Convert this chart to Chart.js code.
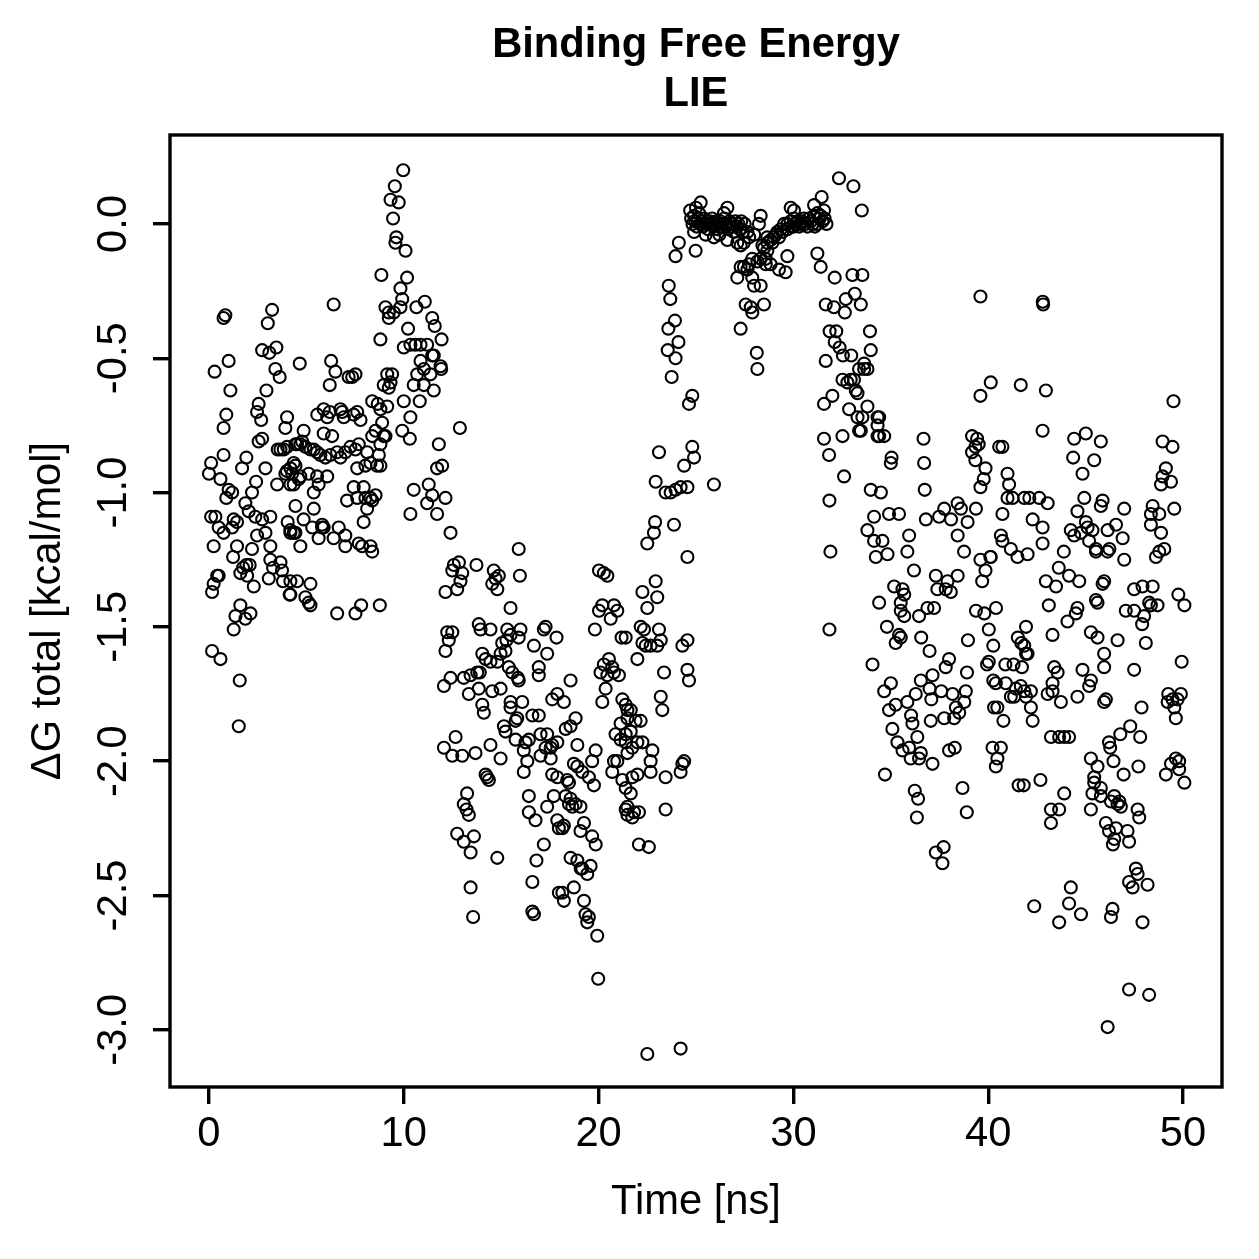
<!DOCTYPE html>
<html>
<head>
<meta charset="utf-8">
<script src="https://cdn.jsdelivr.net/npm/chart.js@4.4.1/dist/chart.umd.min.js"></script>
<style>
  html, body { margin: 0; padding: 0; background: #fff; }
  #wrap { width: 1259px; height: 1259px; }
</style>
</head>
<body>
<div id="wrap"><canvas id="myChart" width="1259" height="1259"></canvas></div>
<script>
// values: [time in ns, dG total in kcal/mol]
const earlyPhase = [
  [0.75,-0.35],[0.84,-0.34],[3.24,-0.32],[3.02,-0.37],[1.01,-0.51],[0.29,-0.55],[2.73,-0.47],[3.1,-0.48],
  [3.46,-0.46],[3.41,-0.54],[3.63,-0.57],[1.1,-0.62],[2.95,-0.62],[0.89,-0.71],[0.75,-0.76],[2.55,-0.67],
  [2.47,-0.7],[2.68,-0.73],[4.01,-0.72],[3.92,-0.76],[2.55,-0.81],[2.73,-0.8],[3.53,-0.84],[3.67,-0.84],
  [3.84,-0.84],[4.01,-0.83],[0.75,-0.86],[0.11,-0.89],[0.0,-0.93],[1.92,-0.87],[1.7,-0.91],[2.9,-0.91],
  [4.0,-0.92],[3.92,-0.93],[4.18,-0.91],[0.59,-0.95],[1.01,-0.99],[1.19,-1.0],[0.89,-1.02],[2.42,-0.96],
  [2.21,-1.0],[3.5,-0.97],[4.18,-0.97],[1.87,-1.04],[2.04,-1.07],[2.38,-1.09],[2.73,-1.1],[3.15,-1.09],
  [0.11,-1.09],[0.33,-1.09],[0.5,-1.13],[0.75,-1.15],[1.27,-1.1],[1.44,-1.11],[1.19,-1.13],[2.47,-1.16],
  [2.9,-1.15],[4.04,-1.11],[4.18,-1.15],[4.44,-1.15],[0.24,-1.2],[1.44,-1.2],[2.21,-1.21],[3.15,-1.2],
  [1.24,-1.24],[1.75,-1.28],[1.92,-1.27],[2.09,-1.27],[1.61,-1.3],[1.96,-1.31],[2.3,-1.35],[3.15,-1.25],
  [3.29,-1.28],[3.67,-1.26],[3.75,-1.29],[3.8,-1.33],[3.07,-1.32],[4.18,-1.33],[4.14,-1.38],[0.42,-1.31],
  [0.5,-1.31],[0.24,-1.34],[0.16,-1.37],[1.61,-1.42],[1.36,-1.46],[1.87,-1.47],[2.13,-1.45],[1.27,-1.51],
  [0.16,-1.59],[0.59,-1.62],[1.58,-1.7],[1.53,-1.87],
  [8.85,-0.19],[6.4,-0.3],[9.06,-0.31],[9.23,-0.33],[9.49,-0.33],[8.8,-0.43],[4.66,-0.52],[6.27,-0.51],
  [6.49,-0.55],[6.2,-0.6],[7.17,-0.57],[7.35,-0.57],[7.52,-0.56],[9.15,-0.56],[8.97,-0.6],[9.23,-0.61],
  [8.38,-0.66],[8.66,-0.67],[9.15,-0.68],[8.8,-0.69],[5.56,-0.71],[5.89,-0.69],[6.07,-0.72],[6.2,-0.7],
  [6.75,-0.69],[6.84,-0.7],[6.92,-0.72],[7.43,-0.71],[7.61,-0.7],[7.78,-0.73],[8.89,-0.74],[8.97,-0.79],
  [8.55,-0.77],[8.38,-0.79],[4.86,-0.77],[4.78,-0.81],[4.52,-0.82],[5.89,-0.78],[6.32,-0.79],[4.44,-0.82],
  [4.69,-0.82],[4.95,-0.83],[5.21,-0.84],[5.38,-0.84],[5.55,-0.85],[5.72,-0.86],[5.98,-0.87],[6.23,-0.86],
  [6.58,-0.85],[6.75,-0.87],[7.0,-0.85],[7.26,-0.83],[7.52,-0.84],[7.69,-0.82],[8.12,-0.85],[8.29,-0.89],
  [8.72,-0.86],[8.63,-0.9],[7.61,-0.91],[8.03,-0.9],[4.35,-0.89],[4.44,-0.9],[4.27,-0.93],[4.61,-0.95],
  [4.35,-0.97],[4.69,-0.94],[5.12,-0.93],[5.55,-0.94],[5.63,-0.97],[6.07,-0.94],[5.38,-1.0],[4.44,-1.05],
  [5.38,-1.06],[7.43,-0.98],[7.94,-0.98],[8.03,-1.02],[7.61,-1.02],[7.09,-1.03],[8.29,-1.02],[8.55,-1.01],
  [8.38,-1.03],[8.12,-1.06],[7.94,-1.11],[4.86,-1.1],[5.3,-1.13],[5.81,-1.13],[5.89,-1.13],[6.66,-1.13],
  [7.0,-1.16],[6.4,-1.17],[5.63,-1.17],[5.81,-1.12],[4.18,-1.14],[4.35,-1.15],[4.69,-1.2],[7.0,-1.2],
  [7.69,-1.19],[7.86,-1.2],[8.29,-1.2],[8.38,-1.22],[4.52,-1.33],[5.21,-1.34],[4.95,-1.39],[5.12,-1.41],
  [5.21,-1.42],[4.18,-1.38],[6.58,-1.45],[7.52,-1.45],[7.81,-1.42],[8.77,-1.42],
  [9.97,0.2],[9.54,0.14],[9.32,0.09],[9.74,0.08],[9.45,0.02],[9.62,-0.05],[9.57,-0.07],[10.09,-0.1],
  [10.17,-0.2],[9.83,-0.24],[9.92,-0.28],[9.83,-0.31],[9.23,-0.35],[10.65,-0.31],[11.08,-0.29],[11.46,-0.35],
  [11.59,-0.38],[10.22,-0.39],[11.94,-0.43],[10.0,-0.46],[10.34,-0.45],[10.6,-0.45],[10.86,-0.45],[11.2,-0.45],
  [11.46,-0.49],[11.54,-0.49],[11.89,-0.53],[11.92,-0.54],[10.86,-0.51],[11.03,-0.54],[11.37,-0.56],[10.69,-0.56],
  [10.51,-0.6],[9.4,-0.56],[9.32,-0.59],[11.03,-0.6],[10.82,-0.66],[11.54,-0.62],[10.0,-0.66],[10.34,-0.72],
  [9.06,-0.79],[8.8,-0.82],[9.92,-0.77],[10.31,-0.8],[12.88,-0.76],[11.8,-0.82],[8.8,-0.9],[11.71,-0.91],
  [11.97,-0.9],[10.51,-0.99],[11.28,-0.97],[11.46,-1.01],[11.2,-1.04],[12.14,-1.02],[10.34,-1.08],[11.71,-1.08],
  [12.4,-1.15]
];
const lowPhase = [
  [15.9,-1.21],[12.57,-1.27],[12.83,-1.26],[12.49,-1.29],[13.0,-1.3],[12.91,-1.33],[12.74,-1.36],[12.14,-1.37],
  [13.73,-1.27],[14.62,-1.29],[14.88,-1.31],[14.71,-1.32],[14.54,-1.34],[14.8,-1.36],[15.96,-1.31],[15.48,-1.43],
  [13.85,-1.49],[13.94,-1.51],[14.45,-1.51],[15.31,-1.51],[15.48,-1.53],[15.99,-1.51],[15.05,-1.56],[15.27,-1.55],
  [17.19,-1.51],[17.28,-1.5],[17.84,-1.54],[12.23,-1.52],[12.49,-1.52],[12.31,-1.55],[12.14,-1.59],[15.9,-1.54],
  [16.68,-1.57],[14.03,-1.6],[14.2,-1.62],[14.45,-1.63],[14.8,-1.63],[14.97,-1.6],[15.22,-1.59],[17.36,-1.6],
  [12.4,-1.69],[13.08,-1.69],[13.43,-1.68],[13.77,-1.67],[13.9,-1.67],[12.06,-1.72],[15.39,-1.65],[15.57,-1.67],
  [15.86,-1.69],[15.9,-1.7],[16.93,-1.65],[16.93,-1.68],[13.34,-1.75],[13.85,-1.73],[14.54,-1.74],[14.97,-1.73],
  [17.62,-1.77],[17.88,-1.75],[14.03,-1.79],[14.11,-1.82],[15.48,-1.78],[15.48,-1.8],[16.08,-1.78],[15.74,-1.85],
  [15.82,-1.84],[16.6,-1.83],[16.93,-1.83],[15.14,-1.87],[15.22,-1.89],[15.74,-1.92],[16.25,-1.93],[16.42,-1.92],
  [17.02,-1.9],[17.36,-1.9],[17.62,-1.94],[17.28,-1.95],[17.54,-1.95],[17.88,-1.93],[12.66,-1.91],[12.06,-1.95],
  [12.49,-1.98],[13.0,-1.98],[13.68,-1.97],[14.45,-1.94],[14.97,-1.99],[16.16,-1.96],[16.34,-2.0],[17.02,-1.98],
  [17.54,-1.99],[14.2,-2.05],[14.37,-2.07],[14.28,-2.06],[16.16,-2.04],[17.62,-2.05],[17.88,-2.06],[13.25,-2.12],
  [13.08,-2.16],[13.22,-2.18],[13.34,-2.2],[16.42,-2.13],[17.36,-2.17],[17.7,-2.13],[16.42,-2.19],[16.76,-2.22],
  [17.88,-2.22],[17.96,-2.25],[12.74,-2.27],[13.08,-2.3],[13.6,-2.28],[13.43,-2.34],[14.8,-2.36],[17.19,-2.31],
  [16.81,-2.37],[13.43,-2.47],[16.6,-2.45],[17.96,-2.49],[13.56,-2.58],[16.6,-2.56],[16.68,-2.57],
  [20.02,-1.29],[20.27,-1.3],[20.45,-1.31],[20.19,-1.42],[20.02,-1.44],[20.79,-1.42],[20.96,-1.44],[20.62,-1.47],
  [19.81,-1.51],[21.18,-1.54],[20.53,-1.62],[20.27,-1.64],[20.7,-1.65],[20.1,-1.67],[20.45,-1.68],[21.04,-1.68],
  [20.79,-1.67],[18.56,-1.7],[20.36,-1.73],[20.19,-1.78],[21.22,-1.77],[21.39,-1.79],[21.48,-1.81],[18.22,-1.78],
  [18.82,-1.84],[18.56,-1.87],[18.31,-1.88],[21.13,-1.86],[20.87,-1.9],[21.13,-1.92],[21.39,-1.93],[18.91,-1.94],
  [19.85,-1.96],[19.67,-2.0],[20.79,-2.0],[20.96,-2.0],[20.7,-2.04],[18.73,-2.01],[18.91,-2.02],[19.16,-2.04],
  [19.5,-2.06],[19.76,-2.09],[18.39,-2.07],[18.48,-2.08],[21.22,-2.07],[21.39,-2.1],[21.65,-2.12],[21.48,-2.17],
  [21.39,-2.18],[18.31,-2.13],[18.56,-2.14],[18.82,-2.16],[19.07,-2.17],[18.65,-2.17],[18.48,-2.16],[18.22,-2.24],
  [18.14,-2.25],[19.07,-2.26],[19.25,-2.23],[19.67,-2.28],[19.85,-2.31],[18.56,-2.36],[18.91,-2.37],[19.08,-2.4],
  [19.42,-2.42],[19.59,-2.39],[19.16,-2.4],[18.14,-2.49],[18.22,-2.52],[18.73,-2.47],[19.25,-2.52],[19.33,-2.57],
  [19.5,-2.58],[19.42,-2.6],[19.93,-2.65],[19.98,-2.81],
  [21.39,-1.54],[22.16,-1.5],[22.33,-1.51],[22.25,-1.56],[22.42,-1.57],[22.67,-1.57],[23.1,-1.51],[23.19,-1.55],
  [23.01,-1.57],[21.99,-1.62],[23.36,-1.67],[24.3,-1.57],[24.56,-1.55],[24.56,-1.66],[24.64,-1.7],[23.19,-1.76],
  [23.27,-1.81],[21.65,-1.81],[21.48,-1.84],[21.9,-1.85],[22.16,-1.85],[21.65,-1.89],[21.39,-1.9],[21.99,-1.93],
  [21.73,-1.95],[21.48,-1.97],[22.25,-1.93],[22.76,-1.96],[22.67,-2.0],[22.67,-2.04],[23.44,-2.06],[24.21,-2.04],
  [24.39,-2.0],[24.3,-2.01],[21.99,-2.05],[21.73,-2.06],[21.82,-2.19],[22.07,-2.19],[21.48,-2.2],[21.73,-2.21],
  [23.44,-2.18],[22.07,-2.31],[22.58,-2.32],[22.5,-3.09],[24.21,-3.07]
];
const boundPhase = [
  [22.93,-1.33],[22.25,-1.37],[22.5,-1.43],[23.01,-1.39],[22.9,-1.11],[22.84,-1.15],[22.5,-1.19],[23.87,-1.12],
  [24.56,-1.24],[23.1,-0.85],[24.81,-0.83],[24.9,-0.87],[24.39,-0.9],[22.93,-0.96],[23.44,-1.0],[23.7,-1.0],
  [23.95,-0.99],[24.21,-0.98],[24.56,-0.98],[23.75,-0.57],[24.81,-0.64],[24.64,-0.67],[23.92,-0.36],[23.58,-0.39],
  [24.1,-0.44],[23.55,-0.47],[23.95,-0.5],[23.6,-0.23],[23.68,-0.28],[24.12,-0.07],[23.95,-0.12],[24.98,-0.1],
  [25.92,-0.97],
  [32.34,0.17],[33.08,0.14],[33.51,0.05],[25.24,0.08],[26.61,0.06],[26.44,0.04],[29.86,0.06],[30.03,0.05],
  [31.06,0.07],[31.45,0.1],[28.32,0.03],[28.23,0.0],[24.7,0.05],[25.0,0.06],
  [24.75,0.02],[24.82,0.0],[24.9,0.03],[24.96,0.01],[25.03,-0.01],[25.1,0.02],[25.16,0.04],[25.22,0.0],
  [25.3,0.01],[25.36,-0.01],[25.42,0.02],[25.5,0.0],[25.56,0.01],[25.63,-0.02],[25.7,0.01],[25.76,0.0],
  [25.83,0.02],[25.9,-0.01],[25.96,0.0],[26.03,0.01],[26.1,-0.02],[26.17,0.0],[26.24,0.01],[26.3,-0.01],
  [26.37,0.0],[26.45,0.02],[26.52,-0.01],[26.58,0.0],[26.65,-0.02],[26.72,0.01],[26.8,-0.01],[26.87,0.0],
  [26.95,-0.03],[27.02,0.01],[27.1,-0.01],[27.18,0.0],[27.25,-0.02],[27.32,0.01],[27.4,-0.03],[27.5,0.0],
  [25.92,-0.05],[26.61,-0.06],[27.12,-0.07],[27.29,-0.08],[27.46,-0.07],[27.64,-0.03],[27.73,-0.05],[27.99,-0.04],
  [25.5,-0.04],[26.2,-0.04],[24.9,-0.03],
  [28.49,-0.09],[28.66,-0.07],[28.83,-0.06],[29.0,-0.05],[29.17,-0.03],[29.35,-0.02],[29.52,0.0],[29.69,0.0],
  [29.86,0.01],[30.03,0.02],[30.2,0.01],[30.54,0.02],[30.8,0.02],[31.06,0.03],[31.23,0.04],[31.4,0.03],
  [31.57,0.05],[28.66,-0.05],[28.92,-0.07],[29.09,-0.04],[29.26,-0.05],[29.43,-0.03],[29.69,-0.02],[30.03,-0.01],
  [30.37,0.0],[30.72,-0.01],[30.98,0.0],[31.23,0.0],[31.49,0.01],[29.9,-0.01],[30.1,0.0],[30.3,-0.01],
  [30.45,0.01],[30.6,0.0],[30.9,0.01],[31.1,-0.01],[31.35,0.02],[31.6,0.02],[31.7,0.0],
  [28.41,-0.08],[28.66,-0.1],[28.58,-0.13],[28.32,-0.13],[28.15,-0.14],[28.58,-0.15],[28.83,-0.15],[29.69,-0.12],
  [27.89,-0.13],[27.72,-0.15],[27.46,-0.16],[27.29,-0.16],[27.12,-0.2],[27.89,-0.2],[27.64,-0.17],[27.98,-0.23],
  [28.32,-0.23],[29.26,-0.17],[29.6,-0.18],[28.49,-0.3],[27.81,-0.31],[27.55,-0.3],[27.89,-0.33],[27.29,-0.39],
  [28.12,-0.48],[28.15,-0.54],[31.23,-0.11],[31.4,-0.16],[32.12,-0.2],[33.03,-0.19],[33.54,-0.19],[31.66,-0.3],
  [32.08,-0.31],[32.69,-0.28],[33.15,-0.26],[33.46,-0.3],[32.64,-0.33],[31.86,-0.4],[32.2,-0.4],[32.12,-0.44],
  [32.37,-0.46],[32.54,-0.49],[32.97,-0.49],[33.93,-0.4],[33.97,-0.47],[31.66,-0.51],[33.63,-0.52],[33.8,-0.54],
  [33.63,-0.54],[33.37,-0.54],[32.52,-0.58],[32.77,-0.59],[32.94,-0.58],[33.11,-0.58],[33.29,-0.63],[33.2,-0.62],
  [32.0,-0.64],[31.57,-0.67],[32.86,-0.69],[33.29,-0.72],[33.8,-0.68],[33.37,-0.77],[32.52,-0.79],[31.57,-0.8],
  [31.83,-0.86],[34.32,-0.72],[34.32,-0.79],[32.6,-0.94],[31.85,-1.03],[31.9,-1.22],[31.85,-1.51]
];
const latePhase = [
  [33.54,-0.72],[33.46,-0.77],[34.4,-0.72],[34.32,-0.75],[34.4,-0.79],[34.66,-0.79],[36.68,-0.8],[35.04,-0.87],
  [35.0,-0.89],[36.71,-0.89],[39.17,-0.79],[39.43,-0.8],[39.51,-0.82],[39.34,-0.83],[39.17,-0.85],[39.34,-0.88],
  [39.86,-0.91],[39.77,-0.95],[39.6,-0.98],[40.56,-0.83],[33.97,-0.99],[34.49,-1.0],[36.74,-0.99],[34.14,-1.09],
  [34.91,-1.08],[35.42,-1.08],[33.8,-1.14],[34.14,-1.18],[34.57,-1.18],[34.23,-1.24],[34.83,-1.23],[35.94,-1.16],
  [35.85,-1.22],[36.8,-1.1],[37.48,-1.09],[37.74,-1.06],[38.09,-1.1],[38.43,-1.04],[38.6,-1.06],[38.94,-1.11],
  [39.37,-1.06],[38.43,-1.16],[38.76,-1.22],[36.19,-1.29],[39.6,-1.25],[40.11,-1.24],[39.86,-1.29],[39.69,-1.33],
  [35.17,-1.35],[35.6,-1.36],[35.69,-1.38],[35.51,-1.41],[37.31,-1.31],[37.39,-1.36],[37.91,-1.33],[37.82,-1.36],
  [38.08,-1.37],[38.43,-1.31],[34.4,-1.41],[35.51,-1.44],[35.69,-1.46],[36.45,-1.46],[36.88,-1.43],[37.22,-1.43],
  [39.37,-1.44],[39.8,-1.45],[40.4,-1.43],[34.8,-1.5],[35.42,-1.53],[35.25,-1.56],[35.51,-1.54],[36.56,-1.54],
  [36.99,-1.59],[38.96,-1.55],[40.03,-1.51],[40.26,-1.57],[34.06,-1.64],[37.99,-1.62],[37.82,-1.65],[37.14,-1.68],
  [36.54,-1.7],[38.91,-1.67],[39.94,-1.64],[40.03,-1.63],[35.0,-1.71],[34.66,-1.74],[36.28,-1.75],[35.85,-1.78],
  [35.25,-1.79],[34.91,-1.81],[36.99,-1.73],[37.08,-1.77],[37.59,-1.74],[38.17,-1.75],[38.85,-1.74],[38.77,-1.78],
  [38.34,-1.8],[38.51,-1.82],[40.26,-1.7],[40.3,-1.8],[40.47,-1.8],[36.04,-1.83],[36.11,-1.86],[37.05,-1.85],
  [37.74,-1.84],[38.25,-1.84],[35.08,-1.88],[35.34,-1.93],[35.6,-1.96],[35.94,-1.95],[36.02,-1.99],[36.36,-1.91],
  [36.54,-1.97],[36.45,-1.99],[37.14,-2.01],[37.99,-1.96],[38.28,-1.95],[40.22,-1.95],[40.47,-1.99],[40.39,-2.02],
  [34.7,-2.05],[36.23,-2.11],[36.4,-2.14],[36.34,-2.21],[38.68,-2.1],[38.9,-2.19],[37.31,-2.34],[37.71,-2.32],
  [37.65,-2.38],
  [42.8,-0.29],[42.82,-0.3],[39.6,-0.27],[40.13,-0.59],[39.6,-0.64],[41.67,-0.6],[42.96,-0.62],[42.79,-0.77],
  [44.41,-0.8],[45.01,-0.78],[45.78,-0.81],[44.36,-0.87],[45.44,-0.88],[40.73,-0.83],[44.84,-0.93],[40.99,-0.93],
  [41.07,-0.97],[40.99,-1.02],[41.25,-1.02],[41.85,-1.02],[42.11,-1.02],[42.62,-1.02],[43.05,-1.04],[44.93,-1.02],
  [45.78,-1.05],[40.73,-1.08],[42.28,-1.1],[42.79,-1.13],[42.79,-1.19],[44.58,-1.07],[45.01,-1.11],[45.1,-1.13],
  [44.24,-1.14],[44.41,-1.16],[44.76,-1.15],[45.18,-1.18],[45.53,-1.22],[46.13,-1.14],[46.13,-1.22],[40.65,-1.16],
  [40.73,-1.18],[41.16,-1.21],[41.5,-1.24],[42.02,-1.23],[40.13,-1.24],[43.88,-1.22],[43.62,-1.28],[44.15,-1.31],
  [44.67,-1.33],[42.96,-1.33],[43.48,-1.35],[45.87,-1.34],[43.11,-1.42],[44.07,-1.48],[44.5,-1.45],[44.58,-1.43],
  [43.3,-1.53],[45.61,-1.41],[41.52,-1.54],[41.7,-1.56],[41.85,-1.57],[41.94,-1.6],[42.02,-1.6],[41.94,-1.5],
  [45.27,-1.52],[45.61,-1.54],[45.95,-1.6],[45.95,-1.65],[40.88,-1.64],[41.3,-1.64],[41.73,-1.65],[43.39,-1.65],
  [43.56,-1.67],[43.3,-1.71],[44.84,-1.66],[45.18,-1.72],[44.58,-1.76],[40.39,-1.71],[40.9,-1.71],[41.42,-1.73],
  [41.67,-1.72],[41.85,-1.74],[41.33,-1.76],[41.16,-1.76],[41.94,-1.76],[42.19,-1.74],[43.05,-1.75],[43.3,-1.74],
  [43.73,-1.78],[42.19,-1.8],[42.28,-1.85],[40.78,-1.85],[45.95,-1.78],[43.22,-1.91],[43.64,-1.91],[43.9,-1.91],
  [44.15,-1.91],[40.65,-1.95],[41.56,-2.09],[41.82,-2.09],[42.68,-2.07],[43.9,-2.12],[43.22,-2.18],[43.64,-2.18],
  [43.22,-2.23],[45.27,-1.99],[45.61,-2.02],[45.44,-2.06],[45.35,-2.12],[45.78,-2.1],[45.27,-2.18],[46.2,-1.93],
  [46.3,-2.15],[46.2,-2.26],[46.4,-2.31],[44.24,-2.47],[44.15,-2.53],[44.76,-2.57],[43.64,-2.6],[42.36,-2.54],
  [46.3,-2.58],
  [49.51,-0.66],[48.95,-0.81],[49.46,-0.83],[49.12,-0.91],[48.95,-0.94],[48.87,-0.97],[49.38,-0.96],[45.87,-1.03],
  [46.98,-1.06],[48.44,-1.05],[48.35,-1.08],[48.78,-1.08],[48.87,-1.15],[48.35,-1.12],[49.55,-1.06],[45.35,-1.14],
  [46.56,-1.12],[46.9,-1.17],[45.53,-1.21],[46.22,-1.21],[46.98,-1.25],[48.61,-1.24],[48.78,-1.22],[49.04,-1.21],
  [45.95,-1.33],[45.53,-1.4],[47.49,-1.36],[47.92,-1.35],[48.44,-1.35],[48.26,-1.41],[48.69,-1.42],[48.0,-1.46],
  [47.06,-1.44],[47.49,-1.44],[47.9,-1.49],[48.35,-1.42],[49.76,-1.38],[50.07,-1.42],[46.64,-1.55],[48.09,-1.56],
  [47.49,-1.66],[49.93,-1.63],[45.27,-1.7],[46.04,-1.77],[47.87,-1.8],[49.24,-1.75],[49.21,-1.78],[49.46,-1.77],
  [49.72,-1.77],[49.89,-1.75],[49.63,-1.84],[49.55,-1.8],[46.78,-1.9],[47.29,-1.87],[47.8,-1.91],[46.26,-1.95],
  [46.43,-2.0],[46.95,-2.05],[47.71,-2.02],[45.44,-2.08],[45.78,-2.13],[49.63,-1.99],[49.8,-2.0],[49.38,-2.01],
  [49.8,-2.03],[49.12,-2.05],[50.07,-2.08],[46.47,-2.13],[46.73,-2.15],[46.81,-2.17],[46.64,-2.16],[47.67,-2.18],
  [47.75,-2.21],[46.04,-2.23],[46.56,-2.25],[46.47,-2.29],[47.15,-2.26],[47.23,-2.3],[47.58,-2.4],[47.67,-2.42],
  [47.23,-2.45],[47.41,-2.47],[48.18,-2.46],[46.38,-2.55],[47.92,-2.6],[47.23,-2.85],[48.26,-2.87],[46.13,-2.99]
];

const xTicks = [0, 10, 20, 30, 40, 50];
const yTicks = [-3.0, -2.5, -2.0, -1.5, -1.0, -0.5, 0.0];
const titleLines = ['Binding Free Energy', 'LIE'];

const FONT = '"Liberation Sans", Arial, Helvetica, sans-serif';
const TXT = 41.7;

// R style closed box around the plot region
const boxPlugin = {
    id: 'box',
    afterDatasetsDraw(chart) {
        const { ctx, chartArea: a } = chart;
        ctx.save();
        ctx.strokeStyle = '#000';
        ctx.lineWidth = 3.4;
        ctx.strokeRect(a.left, a.top, a.right - a.left, a.bottom - a.top);
        ctx.restore();
    }
};

const points = [...earlyPhase, ...lowPhase, ...boundPhase, ...latePhase].map(p => ({ x: p[0], y: p[1] }));

new Chart(document.getElementById('myChart'), {
    type: 'scatter',
    data: {
        datasets: [{
            data: points,
            pointStyle: 'circle',
            pointRadius: 6,
            pointBorderWidth: 2.1,
            pointBackgroundColor: 'rgba(0,0,0,0)',
            pointBorderColor: '#000'
        }]
    },
    options: {
        responsive: false,
        animation: false,
        events: [],
        layout: { padding: { left: 0, right: 37, top: 0, bottom: 0 } },
        plugins: {
            legend: { display: false },
            tooltip: { enabled: false },
            title: {
                display: true,
                text: titleLines,
                fullSize: false,
                color: '#000',
                font: { family: FONT, size: TXT, weight: 'bold', lineHeight: 1.175 },
                padding: { top: 21.5, bottom: 15.5 }
            }
        },
        scales: {
            x: {
                type: 'linear',
                position: 'bottom',
                min: -2,
                max: 52,
                afterBuildTicks: s => { s.ticks = xTicks.map(v => ({ value: v })); },
                afterFit: s => { s.height = 172; },
                border: { display: false },
                grid: { drawOnChartArea: false, tickLength: 17, lineWidth: 3.4, color: '#000' },
                ticks: {
                    autoSkip: false, maxRotation: 0, padding: 5, color: '#000',
                    font: { family: FONT, size: TXT },
                    callback: v => String(v)
                },
                title: {
                    display: true, text: 'Time [ns]', color: '#000',
                    font: { family: FONT, size: TXT },
                    padding: { top: 0, bottom: 31 }
                }
            },
            y: {
                type: 'linear',
                position: 'left',
                min: -3.213,
                max: 0.331,
                afterBuildTicks: s => { s.ticks = yTicks.map(v => ({ value: v })); },
                afterFit: s => { s.width = 170; },
                border: { display: false },
                grid: { drawOnChartArea: false, tickLength: 17, lineWidth: 3.4, color: '#000' },
                ticks: {
                    autoSkip: false, minRotation: 90, maxRotation: 90, crossAlign: 'center',
                    padding: 3, color: '#000',
                    font: { family: FONT, size: TXT },
                    callback: v => Number(v).toFixed(1)
                },
                title: {
                    display: true, text: 'ΔG total [kcal/mol]', color: '#000',
                    font: { family: FONT, size: TXT },
                    padding: { top: 23, bottom: 0 }
                }
            }
        }
    },
    plugins: [boxPlugin]
});
</script>
</body>
</html>
